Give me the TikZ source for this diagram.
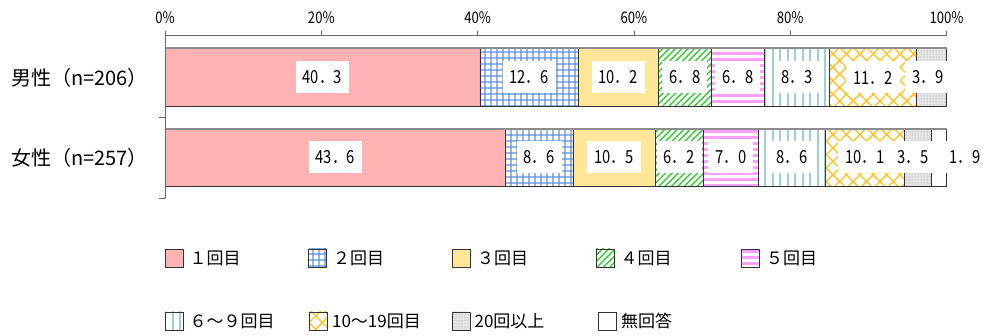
\documentclass[tikz,border=0pt]{standalone}
\usepackage{fontspec}
\setmainfont{Noto Sans CJK JP}
\newfontfamily\numfont[FakeStretch=0.82]{Noto Sans CJK JP}
\usetikzlibrary{patterns.meta,positioning}
\definecolor{pinkA}{RGB}{255,179,179}
\definecolor{gridblue}{RGB}{95,145,220}
\definecolor{yellowA}{RGB}{255,230,153}
\definecolor{greenA}{RGB}{50,205,50}
\definecolor{magA}{RGB}{255,160,255}
\definecolor{lblue}{RGB}{155,208,226}
\definecolor{orangeA}{RGB}{255,196,50}
\definecolor{dotgray}{RGB}{150,150,150}
\tikzset{seg/.style={draw=black!80,line width=0.8pt},
  kai1/.style={seg,fill=pinkA},
  kai2/.style={seg,pattern={Hatch[angle=0,distance=6.4pt,line width=1.3pt]},pattern color=gridblue},
  kai3/.style={seg,fill=yellowA},
  kai4/.style={seg,pattern={Lines[angle=45,distance=4.5pt,line width=1.4pt]},pattern color=greenA},
  kai5/.style={seg,pattern={Lines[angle=0,distance=6pt,line width=3pt]},pattern color=magA},
  kai6/.style={seg,pattern={Lines[angle=90,distance=7.5pt,line width=2pt]},pattern color=lblue},
  kai7/.style={seg,pattern={Hatch[angle=45,distance=9.5pt,line width=1.5pt]},pattern color=orangeA},
  kai8/.style={seg,preaction={fill=black!10},pattern={Dots[distance=3pt,radius=0.5pt]},pattern color=dotgray},
  kai9/.style={seg,fill=white},
  val/.style={fill=white,inner xsep=7pt,inner ysep=0pt,minimum height=32pt,font=\numfont\fontsize{18pt}{18pt}\selectfont},
  axis/.style={draw=black!60,line width=0.8pt},
  tick/.style={font=\numfont\fontsize{16pt}{16pt}\selectfont,inner sep=0pt},
  ylab/.style={anchor=west,inner sep=0pt,font=\fontsize{20pt}{20pt}\selectfont},
  swatch/.style={minimum size=18pt,inner sep=0pt},
  swtext/.style={inner sep=0pt,font=\fontsize{17pt}{17pt}\selectfont}}

\begin{document}
\begin{tikzpicture}[x=1pt,y=-1pt]
  \useasboundingbox (0,0) rectangle (983,336);
  % 目盛り
  \node[tick] (t0) at (165,18) {0\%};
  \node[tick] (t20) at (321.3,18) {20\%};
  \node[tick] (t40) at (477.6,18) {40\%};
  \node[tick] (t60) at (633.9,18) {60\%};
  \node[tick] (t80) at (790.2,18) {80\%};
  \node[tick] (t100) at (946.5,18) {100\%};
  % 項目名
  \node[ylab] (lm) at (11,78) {男性（n=206）};
  \node[ylab] (lf) at (11,158) {女性（n=257）};
  \begin{scope}[xshift=165pt,x=7.815pt]
    % 男性
    \draw[kai1] (0,48) rectangle (40.3,106);
    \draw[kai2] (40.3,48) rectangle (52.9,106);
    \draw[kai3] (52.9,48) rectangle (63.1,106);
    \draw[kai4] (63.1,48) rectangle (69.9,106);
    \draw[kai5] (69.9,48) rectangle (76.7,106);
    \draw[kai6] (76.7,48) rectangle (85.0,106);
    \draw[kai7] (85.0,48) rectangle (96.2,106);
    \draw[kai8] (96.2,48) rectangle (100,106);
    \draw[black!45,line width=1.6pt] (0,48) -- (100,48);
    \node[val] (m1) at (20.15,77.5) {40．3};
    \node[val] (m2) at (46.6,77.5) {12．6};
    \node[val] (m3) at (58.0,77.5) {10．2};
    \node[val] (m4) at (66.5,77.5) {6．8};
    \node[val] (m5) at (73.3,77.5) {6．8};
    \node[val] (m6) at (80.85,77.5) {8．3};
    \node[val] (m7) at (90.6,77.5) {11．2};
    \node[val] (m8) at (97.6,77.5) {3．9};
    % 女性
    \draw[kai1] (0,129) rectangle (43.6,186);
    \draw[kai2] (43.6,129) rectangle (52.2,186);
    \draw[kai3] (52.2,129) rectangle (62.7,186);
    \draw[kai4] (62.7,129) rectangle (68.9,186);
    \draw[kai5] (68.9,129) rectangle (75.9,186);
    \draw[kai6] (75.9,129) rectangle (84.5,186);
    \draw[kai7] (84.5,129) rectangle (94.6,186);
    \draw[kai8] (94.6,129) rectangle (98.1,186);
    \draw[kai9] (98.1,129) rectangle (100,186);
    \draw[black!45,line width=1.6pt] (0,129) -- (100,129);
    \node[val] (f1) at (21.8,157.5) {43．6};
    \node[val] (f2) at (47.9,157.5) {8．6};
    \node[val] (f3) at (57.45,157.5) {10．5};
    \node[val] (f4) at (65.8,157.5) {6．2};
    \node[val] (f5) at (72.4,157.5) {7．0};
    \node[val] (f6) at (80.2,157.5) {8．6};
    \node[val] (f7) at (89.55,157.5) {10．1};
    \node[val] (f8) at (95.7,157.5) {3．5};
    \node[val] (f9) at (102.4,157.5) {1．9};
  \end{scope}
  % 軸
  \draw[axis] (165,35) -- (946.5,35);
  \draw[axis] (165,31) -- (165,198);
  \draw[axis] (321.3,31) -- (321.3,35);
  \draw[axis] (477.6,31) -- (477.6,35);
  \draw[axis] (633.9,31) -- (633.9,35);
  \draw[axis] (790.2,31) -- (790.2,35);
  \draw[axis] (946.5,31) -- (946.5,35);
  \draw[axis] (159,117) -- (165,117);
  \draw[axis] (159,198) -- (165,198);
  % 凡例
  \node[swatch,kai1] (k1) at (174,258) {};
  \node[swtext,right=6pt of k1] (n1) {１回目};
  \node[swatch,kai2] (k2) at (317.5,258) {};
  \node[swtext,right=6pt of k2] (n2) {２回目};
  \node[swatch,kai3] (k3) at (461.5,258) {};
  \node[swtext,right=6pt of k3] (n3) {３回目};
  \node[swatch,kai4] (k4) at (605,258) {};
  \node[swtext,right=6pt of k4] (n4) {４回目};
  \node[swatch,kai5] (k5) at (750.5,258) {};
  \node[swtext,right=6pt of k5] (n5) {５回目};
  \node[swatch,kai6] (k6) at (174,321) {};
  \node[swtext,right=6pt of k6] (n6) {６～９回目};
  \node[swatch,kai7] (k7) at (318.5,321) {};
  \node[swtext,right=4pt of k7] (n7) {10～19回目};
  \node[swatch,kai8] (k8) at (461,321) {};
  \node[swtext,right=4pt of k8] (n8) {20回以上};
  \node[swatch,kai9] (k9) at (607.5,321) {};
  \node[swtext,right=4pt of k9] (n9) {無回答};
\end{tikzpicture}
\end{document}
